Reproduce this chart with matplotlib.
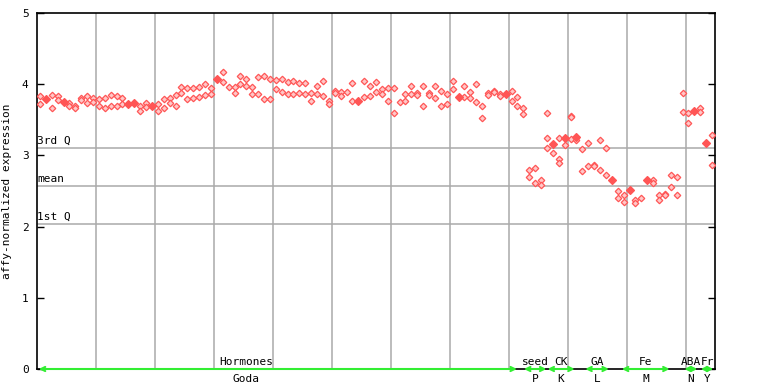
import matplotlib
matplotlib.use("Agg")
import matplotlib.pyplot as plt
import numpy as np

# ---------------- data ----------------
expression = [
    [3.83, 3.72], [3.79], [3.85, 3.67], [3.83, 3.78], [3.75], [3.74, 3.70],
    [3.70, 3.66], [3.80, 3.78], [3.83, 3.73], [3.80, 3.75], [3.79, 3.70],
    [3.80, 3.67], [3.85, 3.69], [3.83, 3.70], [3.81, 3.72], [3.72], [3.73],
    [3.70, 3.62], [3.73, 3.68], [3.69], [3.72, 3.62], [3.79, 3.67],
    [3.80, 3.74], [3.85, 3.69], [3.96, 3.87], [3.95, 3.79], [3.95, 3.80],
    [3.96, 3.82], [4.00, 3.85], [3.94, 3.86], [4.07], [4.17, 4.03], [3.96],
    [3.96, 3.88], [4.12, 4.00], [4.07, 3.98], [3.96, 3.86], [4.10, 3.86],
    [4.12, 3.79], [4.07, 3.79], [4.06, 3.93], [4.08, 3.89], [4.03, 3.86],
    [4.04, 3.86], [4.01, 3.87], [4.01, 3.86], [3.87, 3.77], [3.97, 3.86],
    [4.05, 3.83], [3.77, 3.72], [3.90, 3.88], [3.89, 3.83], [3.89],
    [4.01, 3.77], [3.77], [4.04, 3.82], [3.97, 3.83], [4.03, 3.89],
    [3.93, 3.86], [3.94, 3.76], [3.94, 3.59], [3.75], [3.86, 3.76],
    [3.98, 3.86], [3.87, 3.85], [3.98, 3.69], [3.87, 3.85], [3.97, 3.81],
    [3.90, 3.69], [3.86, 3.72], [4.04, 3.93], [3.82], [3.97, 3.82],
    [3.89, 3.81], [4.00, 3.75], [3.70, 3.52], [3.87, 3.85], [3.91, 3.89],
    [3.86, 3.83], [3.86], [3.91, 3.76], [3.82, 3.69], [3.66, 3.58],
    [2.79, 2.69], [2.82, 2.61], [2.65, 2.58], [3.59, 3.25, 3.10],
    [3.16, 3.04], [3.25, 2.95, 2.89], [3.25, 3.15], [3.56, 3.54, 3.23],
    [3.26, 3.21], [3.09, 2.78], [3.17, 2.85], [2.87, 2.85], [3.21, 2.80],
    [3.10, 2.73], [2.65], [2.50, 2.40], [2.45, 2.35], [2.52], [2.37, 2.33],
    [2.40], [2.65], [2.66, 2.61], [2.44, 2.37], [2.46, 2.44], [2.72, 2.55],
    [2.69, 2.44], [3.87, 3.61], [3.59, 3.46], [3.63], [3.66, 3.61], [3.18],
    [3.28, 2.87],
]
solid_samples = [1, 4, 15, 16, 19, 30, 54, 71, 79, 87, 89, 91, 97, 100, 103, 111, 113]

quartile_names = ["3rd Q", "mean", "1st Q"]
quartile_values = [3.10, 2.575, 2.035]

group_top = ["Hormones", "seed", "CK", "GA", "Fe", "ABA", "Fr"]
group_bottom = ["Goda", "P", "K", "L", "M", "N", "Y"]
group_start = [0.3, 82.6, 86.6, 93.0, 99.2, 109.8, 112.6]
group_end = [81.4, 86.4, 91.2, 97.0, 107.3, 112.0, 114.7]

y_label = "affy-normalized expression"
y_ticks = [0, 1, 2, 3, 4, 5]

# ---------------- plot ----------------
W, H = 768, 384
fig = plt.figure(figsize=(W / 100, H / 100), dpi=100)
ax = fig.add_axes([37 / W, 15 / H, 678 / W, 356 / H])
n = len(expression)
ax.set_xlim(0, n)
ax.set_ylim(0, 5)

mono = "DejaVu Sans Mono"
fs = 8
grid_c = "#aaaaaa"
red = "#ff5555"

for k in range(10, n, 10):
    ax.axvline(k, color=grid_c, lw=1.1, zorder=1)
for name, v in zip(quartile_names, quartile_values):
    ax.axhline(v, color=grid_c, lw=1.1, zorder=1)
    ax.text(0.05, v + 0.03, name, family=mono, fontsize=fs, ha="left",
            va="bottom", zorder=2)

hx, hy, sx, sy = [], [], [], []
for i, vals in enumerate(expression):
    for j, v in enumerate(vals):
        if i in solid_samples and j == 0:
            sx.append(i + 0.5); sy.append(v)
        else:
            hx.append(i + 0.5); hy.append(v)
ax.plot(hx, hy, ls="none", marker="D", ms=3.3, mfc="#ffc8c8", mec=red,
        mew=0.9, zorder=3)
ax.plot(sx, sy, ls="none", marker="D", ms=4.0, mfc=red, mec=red,
        mew=0.9, zorder=4)

green = "#33ee33"
for top, bot, a, b in zip(group_top, group_bottom, group_start, group_end):
    ax.annotate("", xy=(b, 0), xytext=(a, 0),
                arrowprops=dict(arrowstyle="<->,head_length=0.5,head_width=0.25",
                                color=green, lw=1.5,
                                mutation_scale=6, shrinkA=0, shrinkB=0),
                zorder=5, annotation_clip=False)
    c = (a + b) / 2
    if top == "Hormones":
        c = 35.5
    ax.text(c, 0.03, top, family=mono, fontsize=fs, ha="center",
            va="bottom", zorder=6)
    ax.text(c, -0.07, bot, family=mono, fontsize=fs, ha="center",
            va="top", zorder=6, clip_on=False)

ax.set_xticks([])
ax.set_yticks(y_ticks)
ax.set_yticklabels([str(t) for t in y_ticks], family=mono, fontsize=fs)
ax.tick_params(axis="y", direction="in", length=5, width=1, right=True,
               pad=6, colors="black")
for s in ax.spines.values():
    s.set_color("black")
    s.set_linewidth(1.2)
ax.set_ylabel(y_label, family=mono, fontsize=fs, labelpad=7)

fig.savefig("out.png", dpi=100)
